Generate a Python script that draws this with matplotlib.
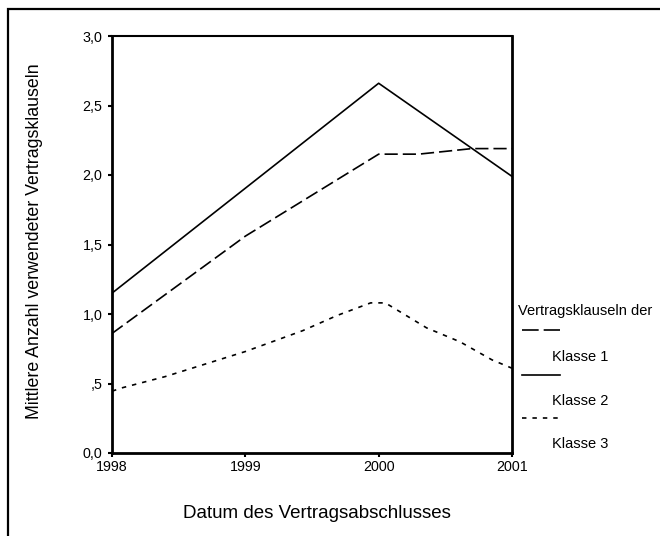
import matplotlib
matplotlib.use("Agg")
import matplotlib.pyplot as plt
from matplotlib.lines import Line2D
from matplotlib.patches import Rectangle

plt.rcParams['font.family'] = ['Liberation Sans', 'DejaVu Sans']
plt.rcParams['lines.scale_dashes'] = False

# data (x = date as fractional year)
klasse1_x = [1998.0, 1999.0, 2000.0, 2000.3, 2000.7, 2001.0]
klasse1_y = [0.86, 1.56, 2.15, 2.15, 2.19, 2.19]

klasse2_x = [1998.0, 2000.0, 2001.0]
klasse2_y = [1.15, 2.66, 1.99]

klasse3_x = [1998.0, 1998.08, 1998.4, 1998.7, 1999.0, 1999.43, 1999.69,
             1999.94, 2000.05, 2000.36, 2000.61, 2000.85, 2001.0]
klasse3_y = [0.445, 0.47, 0.55, 0.64, 0.73, 0.88, 0.99,
             1.08, 1.08, 0.90, 0.80, 0.67, 0.61]

x_ticks = [1998, 1999, 2000, 2001]
x_labels = ['1998', '1999', '2000', '2001']
y_ticks = [0.0, 0.5, 1.0, 1.5, 2.0, 2.5, 3.0]
y_labels = ['0,0', ',5', '1,0', '1,5', '2,0', '2,5', '3,0']

legend_title = 'Vertragsklauseln der'
legend_labels = ['Klasse 1', 'Klasse 2', 'Klasse 3']

W, H = 660, 536
fig = plt.figure(figsize=(W / 100, H / 100), dpi=100)
ax = fig.add_axes([112 / W, (H - 453) / H, 400 / W, 417 / H])

dash1 = (0, (9.5, 3.6))
dash3 = (0, (3.2, 4.3))
ax.plot(klasse1_x, klasse1_y, color='black', lw=1.2, linestyle=dash1)
ax.plot(klasse2_x, klasse2_y, color='black', lw=1.2, linestyle='-')
ax.plot(klasse3_x, klasse3_y, color='black', lw=1.2, linestyle=dash3)

ax.set_xlim(1998, 2001)
ax.set_ylim(0, 3)
ax.set_xticks(x_ticks)
ax.set_xticklabels(x_labels)
ax.set_yticks(y_ticks)
ax.set_yticklabels(y_labels)
ax.tick_params(axis='both', direction='out', length=3, width=1.5,
               labelsize=10.3, pad=2, colors='black')
ax.tick_params(axis='y', pad=4)
for side in ['left', 'bottom', 'right']:
    ax.spines[side].set_linewidth(2)
ax.spines['top'].set_linewidth(1.5)

fig.text(317 / W, (H - 513) / H, 'Datum des Vertragsabschlusses',
         ha='center', va='center', fontsize=13.5)
fig.text(35 / W, (H - 241) / H, 'Mittlere Anzahl verwendeter Vertragsklauseln',
         ha='center', va='center', rotation=90, fontsize=12.8)

# legend drawn by hand (labels sit below their line samples)
fig.text(518 / W, (H - 311) / H, legend_title, ha='left', va='center', fontsize=10.5)
styles = [(0, (12, 3.6)), '-', dash3]
line_y = [330, 375, 418]
label_y = [357, 401, 444]
for st, ly, ty, lab in zip(styles, line_y, label_y, legend_labels):
    fig.add_artist(Line2D([522 / W, 560 / W], [(H - ly) / H, (H - ly) / H],
                          color='black', lw=1.2, linestyle=st,
                          transform=fig.transFigure))
    fig.text(552 / W, (H - ty) / H, lab, ha='left', va='center', fontsize=10.5)

# outer frame (left and top edges visible)
fig.add_artist(Rectangle((8 / W, -0.1), 1.2, (H - 9) / H + 0.1,
                         transform=fig.transFigure, fill=False,
                         edgecolor='black', lw=1.6))

fig.savefig('out.png', dpi=100)
